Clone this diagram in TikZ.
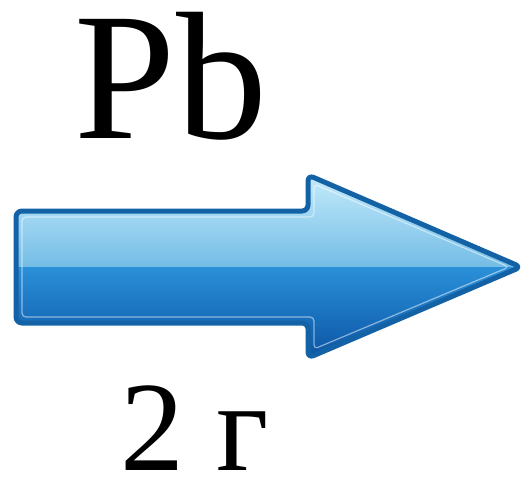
\documentclass[tikz,border=0pt]{standalone}
\usepackage{fontspec}
\setmainfont{Liberation Serif}
\definecolor{arrline}{HTML}{1462A6}
\definecolor{topA}{HTML}{C8EEFC}
\definecolor{topB}{HTML}{74BCE6}
\definecolor{botA}{HTML}{2A90D8}
\definecolor{botB}{HTML}{0A52A2}
\tikzset{
  bigtext/.style={anchor=base, inner sep=0pt, text=black},
}
\begin{document}
\begin{tikzpicture}[x=1pt,y=-1pt]
\useasboundingbox (0,0) rectangle (525,479);
% arrow body
\begin{scope}
\path[clip, rounded corners=6pt] (16,211) -- (308,211) -- (308,175) -- (521,267) -- (308,358) -- (308,323) -- (16,323) -- cycle;
\shade[top color=topA, bottom color=topB] (0,170) rectangle (525,267);
\shade[top color=botA, bottom color=botB] (0,267) rectangle (525,362);
\end{scope}
% inner highlight
\draw[white, opacity=0.5, line width=1.2pt, rounded corners=4pt] (22,217) -- (314,217) -- (314,184) -- (509,267) -- (314,349) -- (314,317) -- (22,317) -- cycle;
% outline
\draw[arrline, line width=5pt, rounded corners=6pt, line join=round] (16,211) -- (308,211) -- (308,175) -- (521,267) -- (308,358) -- (308,323) -- (16,323) -- cycle;
% texts
\node[bigtext, font=\fontsize{182}{182}\selectfont] (pb) at (171,138) {Pb};
\node[bigtext, font=\fontsize{128}{128}\selectfont] (mass) at (195,470) {2 г};
\end{tikzpicture}
\end{document}
